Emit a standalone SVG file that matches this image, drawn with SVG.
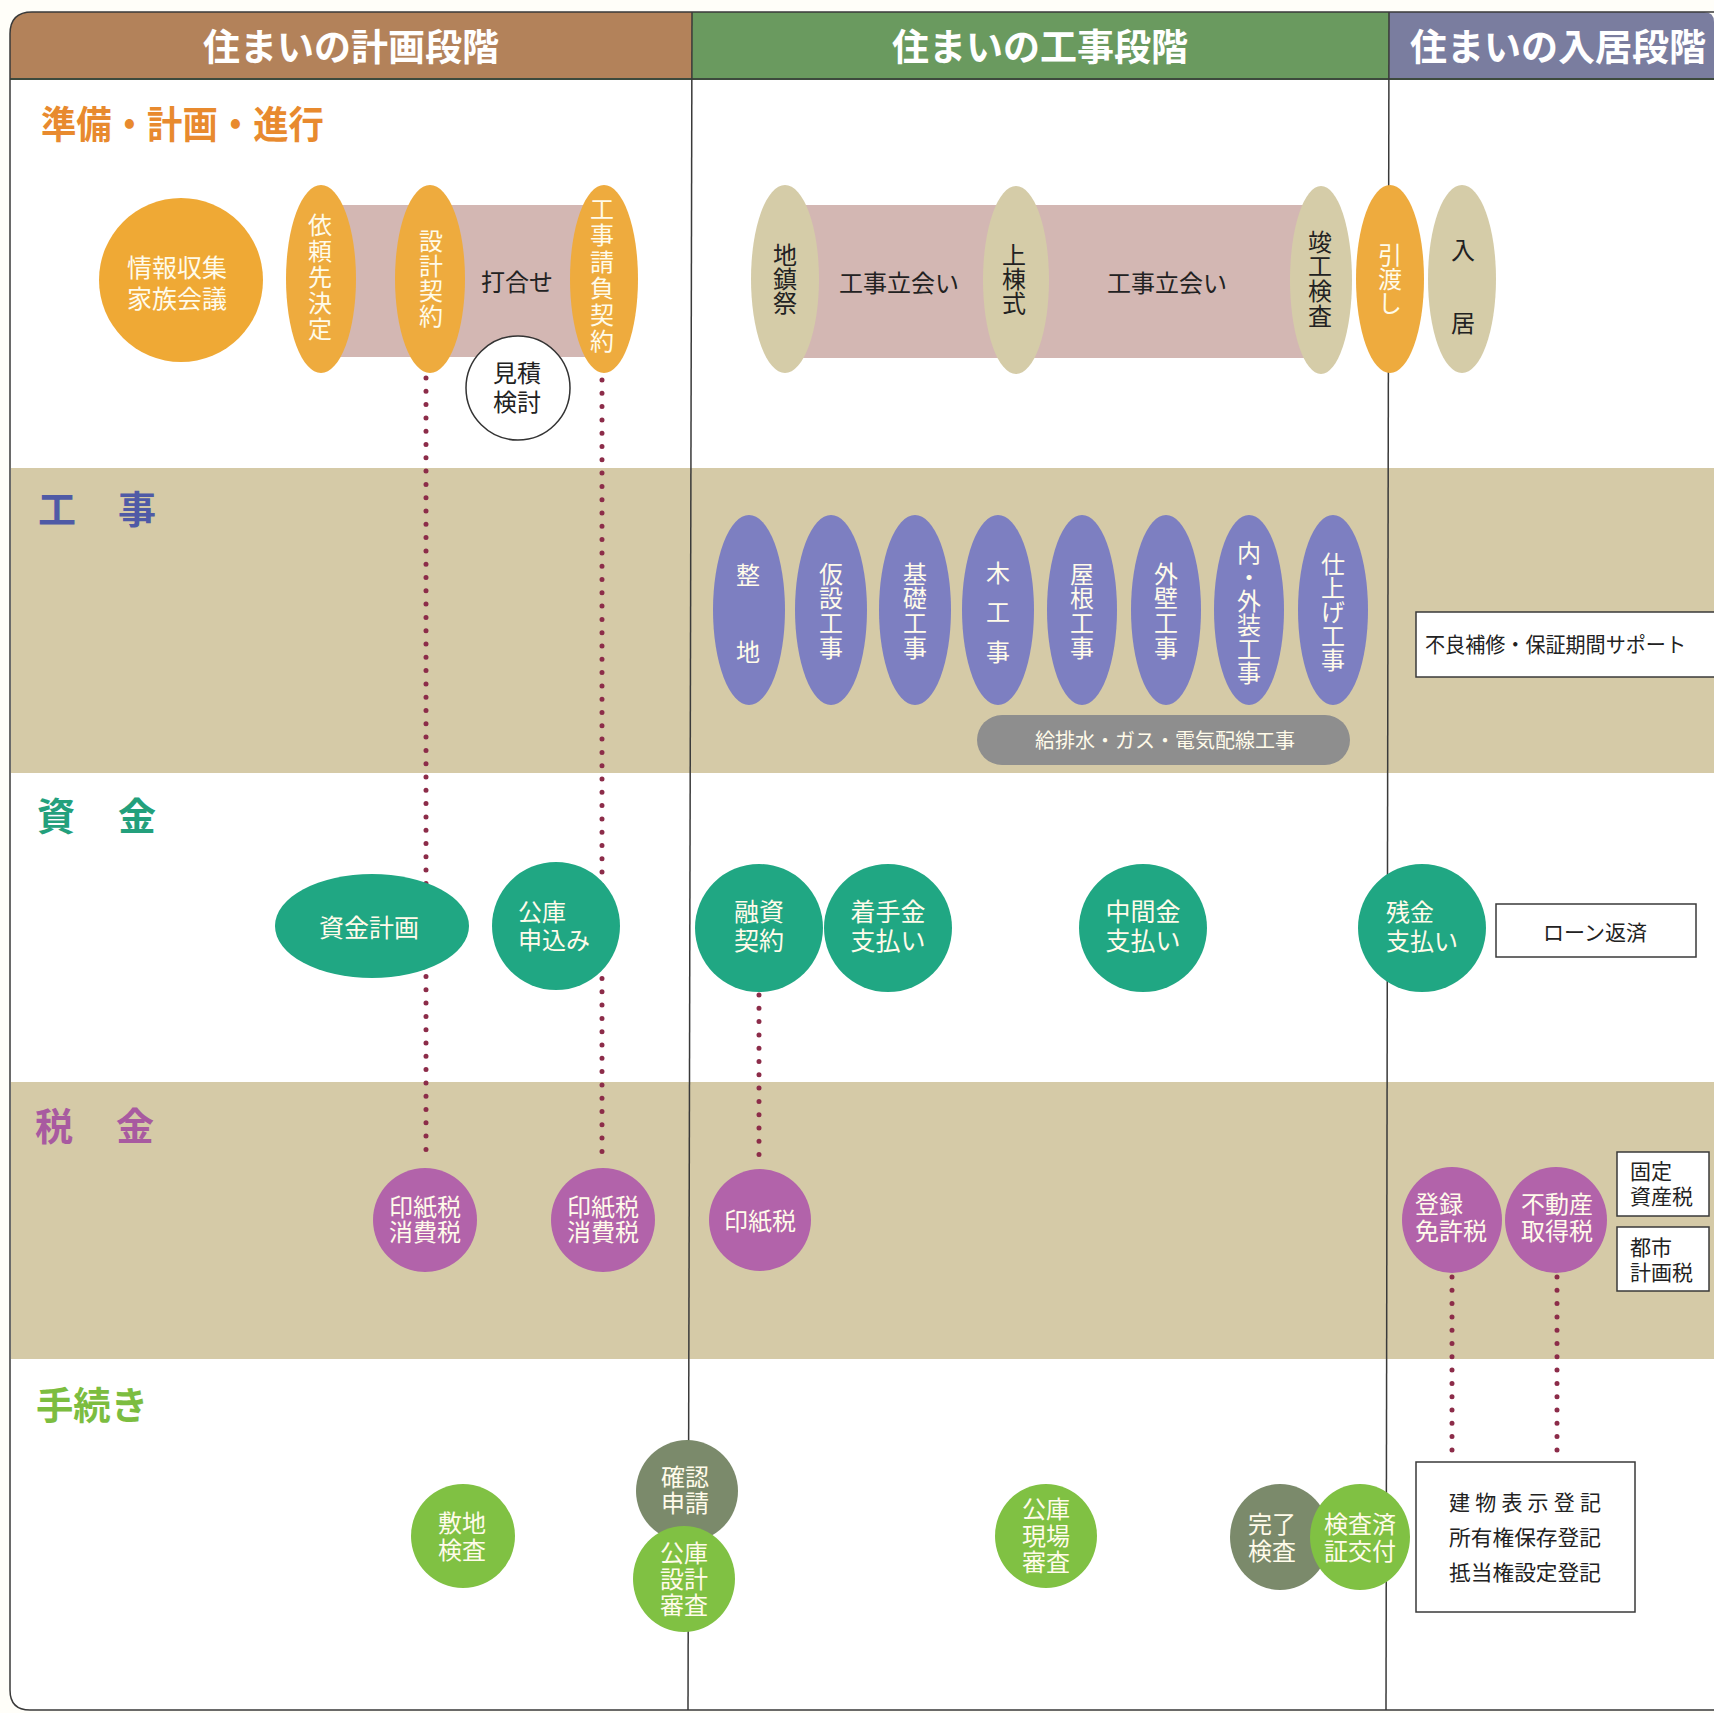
<svg xmlns="http://www.w3.org/2000/svg" width="1714" height="1713" viewBox="0 0 1714 1713">
<defs>
<style>
text{font-family:"Noto Sans CJK JP","Noto Sans",sans-serif;}
.hd{font-size:37px;font-weight:700;fill:#ffffff;text-anchor:middle;}
.sec{font-size:38px;font-weight:700;}
.sc{text-anchor:middle;}
.w{fill:#fffbea;font-size:24px;text-anchor:middle;}
.w25{fill:#fffbea;font-size:25px;text-anchor:middle;}
.wl{fill:#fffbea;font-size:24px;}
.dk{fill:#222222;font-size:24px;text-anchor:middle;}
.v{writing-mode:vertical-rl;font-size:24px;text-anchor:middle;}
.vw{fill:#fffbea;}
.vd{fill:#222222;}
.bx{fill:#222222;font-size:21px;}
.box{fill:#ffffff;stroke:#3a3a3a;stroke-width:1.5;}
.dot{stroke:#8c2c49;stroke-width:5;stroke-linecap:round;stroke-dasharray:0 13.3;fill:none;}
.div{stroke:#3a3a3a;stroke-width:1.5;fill:none;}
.or{fill:#eeab3e;}
.tn{fill:#d5cca8;}
.pk{fill:#d3b7b3;}
.pu{fill:#7d7fc1;}
.gr{fill:#20a783;}
.mg{fill:#b263aa;}
.lg{fill:#80c143;}
.ol{fill:#7b8a6b;}
</style>
</defs>

<g id="background">
<rect x="0" y="0" width="1714" height="1713" fill="#fffef9"/>
<path d="M10,79 L10,1690 Q10,1710 30,1710 L1714,1710 L1714,79 Z" fill="#ffffff"/>
<rect x="11" y="468" width="1703" height="305" fill="#d5caa7"/>
<rect x="11" y="1082" width="1703" height="277" fill="#d5caa7"/>
<path d="M10,79 L10,34 Q10,12 32,12 L692,12 L692,79 Z" fill="#b3825a"/>
<rect x="692" y="12" width="697" height="67" fill="#6a9a5f"/>
<path d="M1389,12 L1704,12 Q1714,12 1714,22 L1714,79 L1389,79 Z" fill="#7a7d9f"/>
<line x1="10" y1="79" x2="1714" y2="79" stroke="#3d4a3d" stroke-width="2"/>
<path class="div" d="M1714,12 L32,12 Q10,12 10,34 L10,1690 Q10,1710 30,1710 L1714,1710"/>
<line class="div" x1="692" y1="12" x2="688" y2="1710"/>
<line class="div" x1="1389" y1="12" x2="1386" y2="1710"/>
</g>

<g id="headers">
<text class="hd" x="351" y="61">住まいの計画段階</text>
<text class="hd" x="1040" y="61">住まいの工事段階</text>
<text class="hd" x="1558" y="61">住まいの入居段階</text>
</g>

<g id="section-labels">
<text class="sec" x="41" y="138" fill="#e88a2e" textLength="283" lengthAdjust="spacingAndGlyphs">準備・計画・進行</text>
<text class="sec sc" y="523" fill="#4f5aa6"><tspan x="57">工</tspan><tspan x="137">事</tspan></text>
<text class="sec sc" y="830" fill="#23a07c"><tspan x="56">資</tspan><tspan x="137">金</tspan></text>
<text class="sec sc" y="1140" fill="#a85aa0"><tspan x="54">税</tspan><tspan x="135">金</tspan></text>
<text class="sec" x="36" y="1419" fill="#7cbd40" textLength="112" lengthAdjust="spacingAndGlyphs">手続き</text>
</g>

<g id="bars">
<rect class="pk" x="321" y="205" width="283" height="152"/>
<rect class="pk" x="785" y="205" width="536" height="153"/>
<text class="dk" x="517" y="291">打合せ</text>
<text class="dk" x="899" y="292">工事立会い</text>
<text class="dk" x="1167" y="292">工事立会い</text>
</g>

<g id="connectors">
<line class="dot" x1="426" y1="378" x2="426" y2="1153"/>
<line class="dot" x1="602" y1="380" x2="602" y2="1153"/>
<line class="dot" x1="759" y1="995" x2="759" y2="1155"/>
<line class="dot" x1="1452" y1="1277" x2="1452" y2="1453"/>
<line class="dot" x1="1557" y1="1277" x2="1557" y2="1453"/>
</g>

<g id="n-joho"><circle cx="181" cy="280" r="82" fill="#efa935"/>
<text class="w25"><tspan x="177" y="277">情報収集</tspan><tspan x="177" y="308">家族会議</tspan></text></g>

<g id="n-irai"><ellipse class="or" cx="321" cy="279" rx="35" ry="94"/>
<text class="v vw" x="320" y="278" letter-spacing="2">依頼先決定</text></g>

<g id="n-sekkei"><ellipse class="or" cx="430" cy="279" rx="35" ry="94"/>
<text class="v vw" x="431" y="279" letter-spacing="1.3">設計契約</text></g>

<g id="n-ukeoi"><ellipse class="or" cx="604" cy="279" rx="34" ry="94"/>
<text class="v vw" x="602" y="276" letter-spacing="2.4">工事請負契約</text></g>

<g id="n-mitsumori"><circle cx="518" cy="388" r="52" fill="#ffffff" stroke="#333333" stroke-width="1.5"/>
<text class="dk"><tspan x="517" y="382">見積</tspan><tspan x="517" y="411">検討</tspan></text></g>

<g id="n-jichinsai"><ellipse class="tn" cx="785" cy="279" rx="34" ry="94"/>
<text class="v vd" x="785" y="279">地鎮祭</text></g>

<g id="n-jotoshiki"><ellipse class="tn" cx="1016" cy="280" rx="33" ry="94"/>
<text class="v vd" x="1014" y="279">上棟式</text></g>

<g id="n-shunko"><ellipse class="tn" cx="1321" cy="280" rx="31" ry="94"/>
<text class="v vd" x="1320" y="279" letter-spacing="0.7">竣工検査</text></g>

<g id="n-hikiwatashi"><ellipse class="or" cx="1390" cy="279" rx="34" ry="94"/>
<text class="v vw" x="1390" y="279">引渡し</text></g>

<g id="n-nyukyo"><ellipse class="tn" cx="1462" cy="279" rx="34" ry="94"/>
<text class="v vd" x="1463" y="311" letter-spacing="49">入居</text></g>

<g id="n-seichi"><ellipse class="pu" cx="749" cy="610" rx="36" ry="95"/>
<text class="v vw" x="748" y="640" letter-spacing="53">整地</text></g>
<g id="n-kasetsu"><ellipse class="pu" cx="831" cy="610" rx="36" ry="95"/>
<text class="v vw" x="831" y="611" letter-spacing="0.7">仮設工事</text></g>
<g id="n-kiso"><ellipse class="pu" cx="915" cy="610" rx="36" ry="95"/>
<text class="v vw" x="915" y="611" letter-spacing="0.7">基礎工事</text></g>
<g id="n-mokko"><ellipse class="pu" cx="998" cy="610" rx="36" ry="95"/>
<text class="v vw" x="998" y="620" letter-spacing="15.5">木工事</text></g>
<g id="n-yane"><ellipse class="pu" cx="1082" cy="610" rx="35" ry="95"/>
<text class="v vw" x="1082" y="611" letter-spacing="0.7">屋根工事</text></g>
<g id="n-gaiheki"><ellipse class="pu" cx="1166" cy="610" rx="35" ry="95"/>
<text class="v vw" x="1166" y="611" letter-spacing="0.7">外壁工事</text></g>
<g id="n-naigaiso"><ellipse class="pu" cx="1249" cy="610" rx="35" ry="95"/>
<text class="v vw" x="1249" y="613" font-size="23">内・外装工事</text></g>
<g id="n-shiage"><ellipse class="pu" cx="1333" cy="610" rx="35" ry="95"/>
<text class="v vw" x="1333" y="612">仕上げ工事</text></g>

<g id="n-setsubi"><rect x="977" y="715" width="373" height="50" rx="25" fill="#8e8e8e"/>
<text x="1165" y="748" fill="#fffbea" font-size="20" text-anchor="middle">給排水・ガス・電気配線工事</text></g>

<g id="n-hosho"><rect class="box" x="1416" y="612" width="305" height="65"/>
<text class="bx" x="1425" y="652" textLength="261" lengthAdjust="spacingAndGlyphs">不良補修・保証期間サポート</text></g>

<g id="n-shikinkeikaku"><ellipse class="gr" cx="372" cy="926" rx="97" ry="52"/>
<text class="w25" x="369" y="937">資金計画</text></g>
<g id="n-kouko-moushikomi"><ellipse class="gr" cx="556" cy="926" rx="64" ry="64"/>
<text class="wl" font-size="25"><tspan x="518" y="921">公庫</tspan><tspan x="518" y="949">申込み</tspan></text></g>
<g id="n-yushi"><circle class="gr" cx="759" cy="928" r="64"/>
<text class="w25"><tspan x="759" y="921">融資</tspan><tspan x="759" y="950">契約</tspan></text></g>
<g id="n-chakushu"><circle class="gr" cx="888" cy="928" r="64"/>
<text class="w25"><tspan x="888" y="921">着手金</tspan><tspan x="888" y="950">支払い</tspan></text></g>
<g id="n-chukan"><circle class="gr" cx="1143" cy="928" r="64"/>
<text class="w25"><tspan x="1143" y="921">中間金</tspan><tspan x="1143" y="950">支払い</tspan></text></g>
<g id="n-zankin"><circle class="gr" cx="1422" cy="928" r="64"/>
<text class="wl" font-size="25"><tspan x="1386" y="921">残金</tspan><tspan x="1386" y="950">支払い</tspan></text></g>
<g id="n-loan"><rect class="box" x="1496" y="904" width="200" height="53"/>
<text class="bx" x="1595" y="940" text-anchor="middle">ローン返済</text></g>

<g id="n-inshi1"><circle class="mg" cx="425" cy="1220" r="52"/>
<text class="w" font-size="23"><tspan x="425" y="1216">印紙税</tspan><tspan x="425" y="1241">消費税</tspan></text></g>
<g id="n-inshi2"><circle class="mg" cx="603" cy="1220" r="52"/>
<text class="w" font-size="23"><tspan x="603" y="1216">印紙税</tspan><tspan x="603" y="1241">消費税</tspan></text></g>
<g id="n-inshi3"><circle class="mg" cx="760" cy="1220" r="51"/>
<text class="w" x="760" y="1230">印紙税</text></g>
<g id="n-toroku"><ellipse class="mg" cx="1452" cy="1220" rx="50" ry="53"/>
<text class="wl"><tspan x="1415" y="1213">登録</tspan><tspan x="1415" y="1240">免許税</tspan></text></g>
<g id="n-fudosan"><ellipse class="mg" cx="1556" cy="1220" rx="51" ry="53"/>
<text class="w"><tspan x="1557" y="1213">不動産</tspan><tspan x="1557" y="1240">取得税</tspan></text></g>
<g id="n-kotei"><rect class="box" x="1617" y="1152" width="92" height="64"/>
<text class="bx"><tspan x="1630" y="1179">固定</tspan><tspan x="1630" y="1204">資産税</tspan></text></g>
<g id="n-toshi"><rect class="box" x="1617" y="1227" width="92" height="64"/>
<text class="bx"><tspan x="1630" y="1255">都市</tspan><tspan x="1630" y="1280">計画税</tspan></text></g>

<g id="n-shikichi"><ellipse class="lg" cx="463" cy="1536" rx="52" ry="52"/>
<text class="w"><tspan x="462" y="1532">敷地</tspan><tspan x="462" y="1559">検査</tspan></text></g>
<g id="n-kakunin"><ellipse class="ol" cx="687" cy="1491" rx="51" ry="51"/>
<text class="w"><tspan x="685" y="1486">確認</tspan><tspan x="685" y="1512">申請</tspan></text></g>
<g id="n-kouko-sekkei"><ellipse class="lg" cx="684" cy="1579" rx="51" ry="53"/>
<text class="w"><tspan x="684" y="1562">公庫</tspan><tspan x="684" y="1588">設計</tspan><tspan x="684" y="1614">審査</tspan></text></g>
<g id="n-kouko-genba"><ellipse class="lg" cx="1046" cy="1536" rx="51" ry="52"/>
<text class="w"><tspan x="1046" y="1518">公庫</tspan><tspan x="1046" y="1545">現場</tspan><tspan x="1046" y="1571">審査</tspan></text></g>
<g id="n-kanryo"><ellipse class="ol" cx="1280" cy="1537" rx="50" ry="53"/>
<text class="wl"><tspan x="1248" y="1533">完了</tspan><tspan x="1248" y="1560">検査</tspan></text></g>
<g id="n-kensazumi"><ellipse class="lg" cx="1360" cy="1537" rx="50" ry="53"/>
<text class="w"><tspan x="1360" y="1533">検査済</tspan><tspan x="1360" y="1560">証交付</tspan></text></g>
<g id="n-toki"><rect class="box" x="1416" y="1462" width="219" height="150"/>
<text class="bx" x="1449" y="1510" textLength="152" lengthAdjust="spacing">建物表示登記</text>
<text class="bx" x="1449" y="1545" textLength="152" lengthAdjust="spacingAndGlyphs">所有権保存登記</text>
<text class="bx" x="1449" y="1580" textLength="152" lengthAdjust="spacingAndGlyphs">抵当権設定登記</text></g>
</svg>
